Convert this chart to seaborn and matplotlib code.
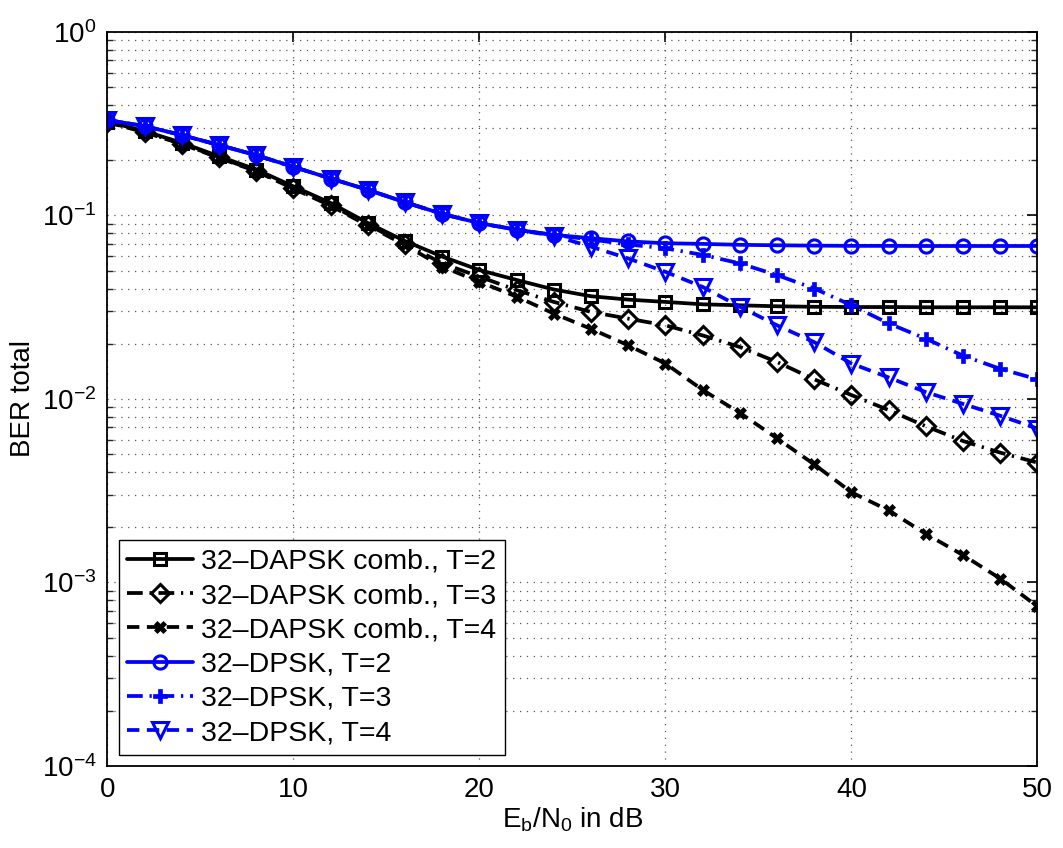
import numpy as np
import pandas as pd
import matplotlib
matplotlib.use("Agg")
import matplotlib.pyplot as plt
import seaborn as sns
from matplotlib.ticker import LogLocator, NullFormatter

# ---------------- data ----------------
ebn0 = list(range(0, 52, 2))

dapsk_t2 = [0.325, 0.288, 0.249, 0.210, 0.178, 0.144, 0.117, 0.091, 0.0725, 0.0597,
            0.0504, 0.0445, 0.0395, 0.0363, 0.0348, 0.0338, 0.0328, 0.0324, 0.0320,
            0.0318, 0.0317, 0.0317, 0.0316, 0.0316, 0.0316, 0.0316]
dapsk_t3 = [0.323, 0.285, 0.246, 0.207, 0.175, 0.141, 0.114, 0.089, 0.0700, 0.0548,
            0.0464, 0.0392, 0.0338, 0.0298, 0.0274, 0.0252, 0.0222, 0.0192, 0.0159,
            0.0128, 0.0105, 0.0087, 0.0071, 0.0059, 0.0051, 0.0045]
dapsk_t4 = [0.322, 0.284, 0.245, 0.206, 0.174, 0.140, 0.113, 0.088, 0.069, 0.0526,
            0.0435, 0.0361, 0.0292, 0.0241, 0.0196, 0.0156, 0.0112, 0.0084, 0.0061,
            0.0044, 0.0031, 0.00247, 0.00184, 0.00141, 0.00105, 0.00074]
dpsk_t2 = [0.331, 0.307, 0.274, 0.242, 0.213, 0.184, 0.159, 0.138, 0.118, 0.102,
           0.0908, 0.0836, 0.0784, 0.0752, 0.0722, 0.0706, 0.0700, 0.0692, 0.0688,
           0.0685, 0.0683, 0.0683, 0.0682, 0.0682, 0.0682, 0.0682]
dpsk_t3 = [0.331, 0.307, 0.274, 0.242, 0.213, 0.184, 0.159, 0.138, 0.118, 0.102,
           0.0908, 0.0836, 0.0782, 0.0740, 0.0695, 0.0662, 0.0610, 0.0548, 0.0473,
           0.0400, 0.0324, 0.0258, 0.0213, 0.0172, 0.0146, 0.0128]
dpsk_t4 = [0.331, 0.307, 0.274, 0.242, 0.213, 0.184, 0.159, 0.138, 0.118, 0.102,
           0.0908, 0.0836, 0.0775, 0.0676, 0.0583, 0.0493, 0.0408, 0.0318, 0.0252,
           0.0204, 0.0156, 0.0131, 0.0109, 0.0094, 0.0081, 0.0069]

labels = ["32–DAPSK comb., T=2", "32–DAPSK comb., T=3", "32–DAPSK comb., T=4",
          "32–DPSK, T=2", "32–DPSK, T=3", "32–DPSK, T=4"]
xticks = [0, 10, 20, 30, 40, 50]

# ---------------- style ----------------
sns.set_theme(style="white")
plt.rcParams["font.family"] = ["Liberation Sans", "DejaVu Sans"]
plt.rcParams["mathtext.fontset"] = "custom"
plt.rcParams["mathtext.rm"] = "Liberation Sans"
plt.rcParams["mathtext.it"] = "Liberation Sans:italic"
plt.rcParams["mathtext.bf"] = "Liberation Sans:bold"
plt.rcParams["text.color"] = "black"
plt.rcParams["axes.labelcolor"] = "black"

fig = plt.figure(figsize=(10.63, 8.48), dpi=100)
ax = fig.add_axes([0.1011, 0.0967, 0.8749, 0.8656])

blue = "#0000ff"
dash = (0, (3.3, 2.0))
dashdot = (0, (4.2, 1.8, 0.6, 1.8))
series = [
    (dapsk_t2, "black", "-", "s", 8.5, "none", 2.2),
    (dapsk_t3, "black", dashdot, "D", 9.5, "none", 2.2),
    (dapsk_t4, "black", dash, "X", 8.5, "black", 0.5),
    (dpsk_t2, blue, "-", "o", 9.5, "none", 2.2),
    (dpsk_t3, blue, dashdot, "P", 9.5, blue, 0.5),
    (dpsk_t4, blue, dash, "v", 12, "none", 2.2),
]

for (vals, col, ls, mk, ms, mfc, mew), lab in zip(series, labels):
    df = pd.DataFrame({"x": ebn0, "y": vals})
    sns.lineplot(data=df, x="x", y="y", ax=ax, color=col, linestyle=ls,
                 linewidth=2.7, marker=mk, markersize=ms, markerfacecolor=mfc,
                 markeredgecolor=col, markeredgewidth=mew, label=lab)

ax.set_yscale("log")
ax.set_xlim(0, 50)
ax.set_ylim(1e-4, 1)
ax.set_xticks(xticks)
ax.yaxis.set_major_locator(LogLocator(base=10, numticks=10))
ax.yaxis.set_minor_locator(LogLocator(base=10, subs=np.arange(2, 10), numticks=50))
ax.yaxis.set_minor_formatter(NullFormatter())

ax.grid(True, which="major", axis="both", color="0.35", linestyle=(0, (1, 4.5)), linewidth=0.9)
ax.grid(True, which="minor", axis="y", color="0.35", linestyle=(0, (1, 4.5)), linewidth=0.9)

ax.tick_params(axis="both", which="major", direction="in", length=7, width=1.2,
               labelsize=20, top=True, right=True, pad=8, colors="black")
ax.tick_params(axis="y", which="minor", direction="in", length=4, width=1.0,
               left=True, right=True)
for sp in ax.spines.values():
    sp.set_color("black")
    sp.set_linewidth(1.3)

ax.set_xlabel(r"E$_\mathregular{b}$/N$_\mathregular{0}$ in dB", fontsize=20,
              labelpad=2, color="black")
ax.set_ylabel("BER total", fontsize=20, labelpad=4, color="black")

leg = ax.legend(loc="lower left", fontsize=20.5, frameon=True, fancybox=False,
                edgecolor="black", framealpha=1, borderaxespad=0.4,
                handlelength=2.3, handletextpad=0.3, labelspacing=0.29,
                borderpad=0.3)
leg.get_frame().set_linewidth(1.0)
for t in leg.get_texts():
    t.set_color("black")

fig.savefig("out.png", dpi=100)
